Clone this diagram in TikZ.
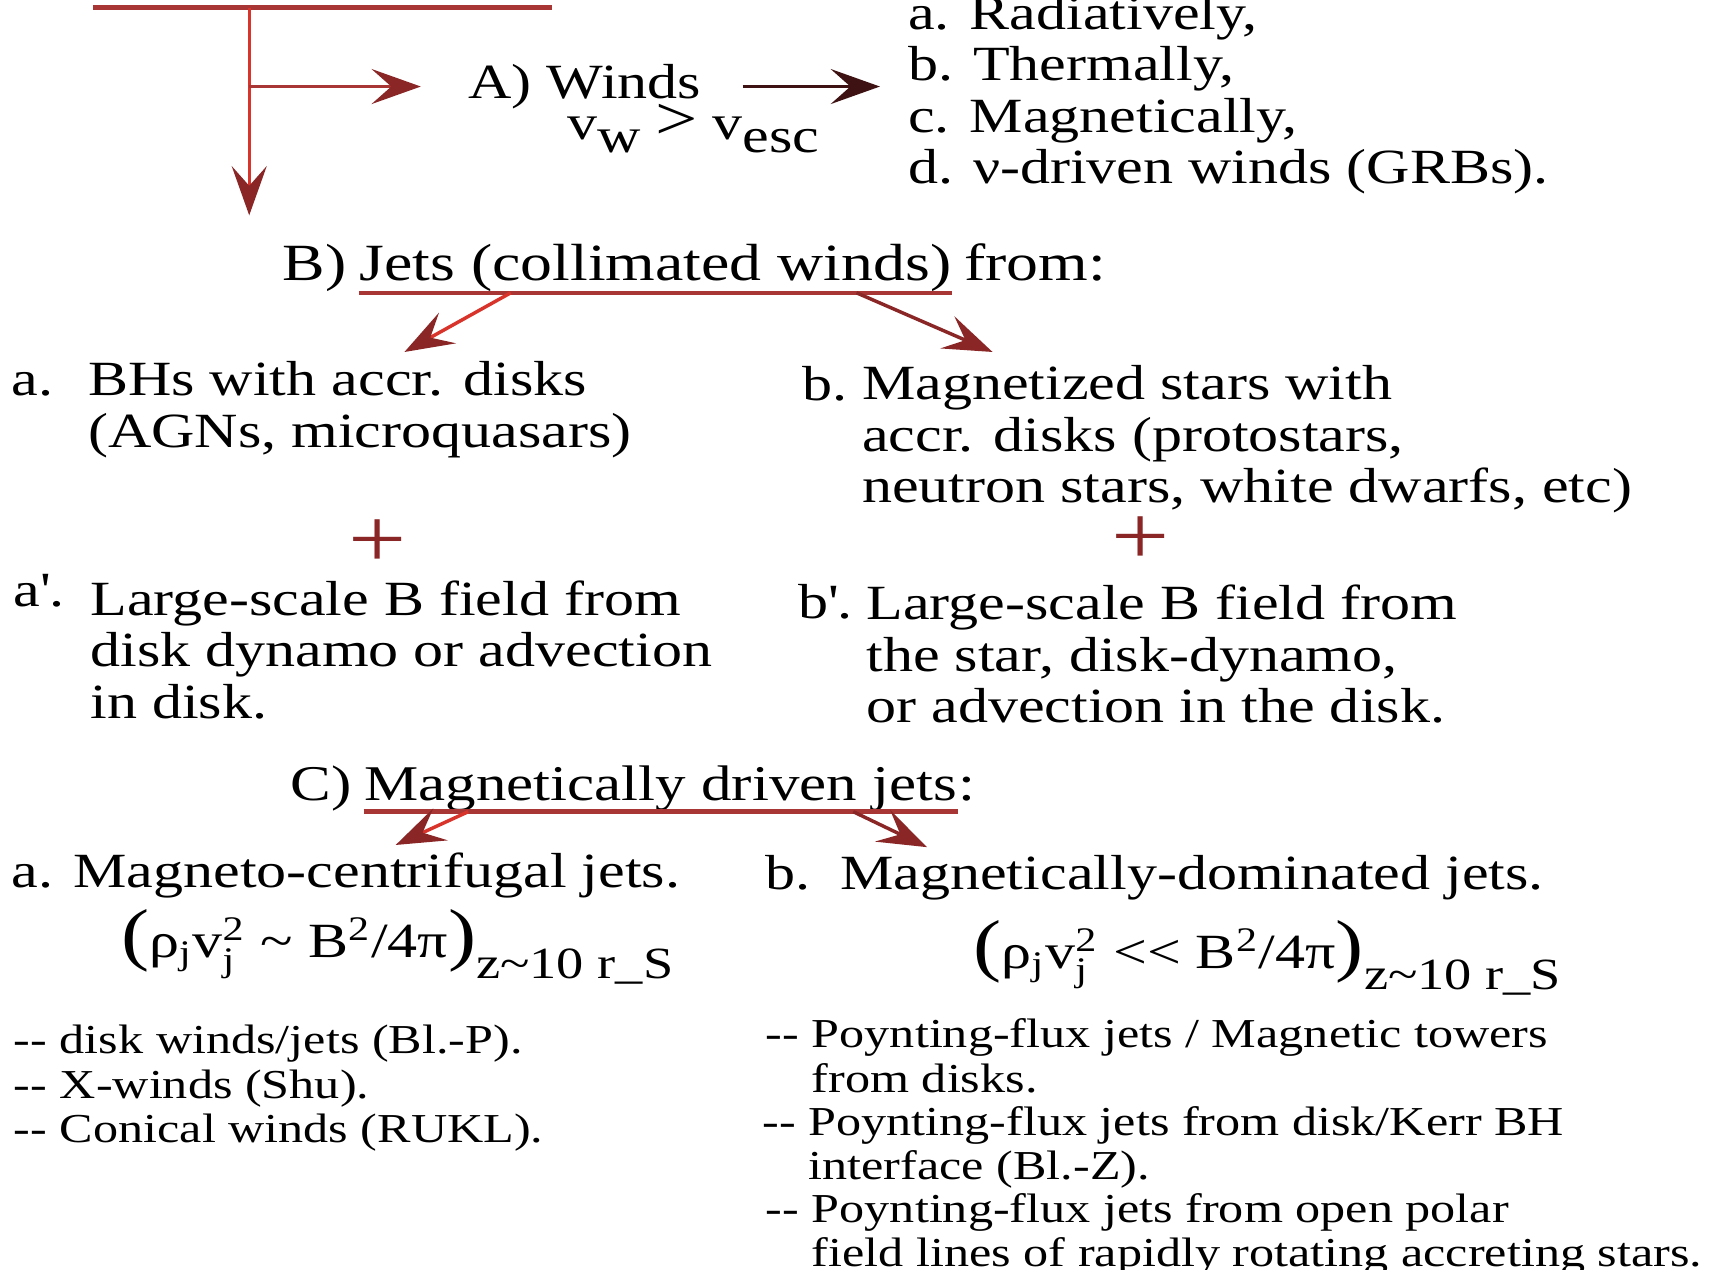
\documentclass[tikz,border=0pt]{standalone}
\usepackage{fontspec}
\usepackage{amsmath}
\setmainfont{Liberation Serif}[FakeStretch=1.22]
\usetikzlibrary{arrows.meta,positioning,calc}

\definecolor{trunkred}{HTML}{D9342B}
\definecolor{tipred}{HTML}{8A2626}
\definecolor{ulred}{HTML}{A83634}
\definecolor{inkred}{HTML}{3E1212}

\newcommand{\lo}[1]{\raisebox{-0.55ex}{#1}}
\newcommand{\bigpar}[1]{{\fontsize{18}{18}\selectfont #1}}
\newcommand{\zsub}{\raisebox{-5.4pt}{\fontsize{11.6}{12}\selectfont z\textasciitilde10 r\_S}}
\newcommand{\dd}{-{}-}

\begin{document}
\begin{tikzpicture}[x=0.01cm,y=0.01cm,
    txt/.style={anchor=base west,align=left,inner sep=0pt,
                font=\fontsize{12.8}{13.4}\selectfont},
    head/.style={anchor=base west,align=left,inner sep=0pt,
                 font=\fontsize{13.6}{14}\selectfont},
    note/.style={anchor=base west,align=left,inner sep=0pt,
                 font=\fontsize{10.7}{11.5}\selectfont},
    arr/.style={draw=trunkred,line width=0.9pt,
                -{Stealth[length=4.5mm,width=3.2mm,inset=1.8mm,color=tipred]}},
    darr/.style={draw=inkred,line width=0.9pt,
                 -{Stealth[length=4.5mm,width=3.2mm,inset=1.8mm,color=inkred]}},
    uline/.style={draw=ulred,line width=1.2pt},
    plus/.style={text=tipred,inner sep=0pt,font=\fontsize{22}{22}\selectfont},
]
\useasboundingbox (0,0) rectangle (1568,-1161);

% ---- Top bar (its heading is cut off by the frame) -----------------------
\coordinate (topL) at (85,-7);
\coordinate (topR) at (505,-7);
\coordinate (trunk) at (228,-7);
\draw[uline] (topL) -- (topR);

% ---- A) Winds -------------------------------------------------------------
% multi-line nodes sit on the baseline of their last line
\node[txt] (winds) at (428,-90) {A) Winds};
\node[txt] (vesc) at (518,-128)
    {v\lo{w} {\fontsize{16}{16}\selectfont >} v\lo{esc}};
\node[txt] (wlist) at (830,-168)
    {a. Radiatively,\\ b. Thermally,\\ c. Magnetically,\\ d. ν-driven winds (GRBs).};

% ---- B) Jets --------------------------------------------------------------
\node[head] (Bhead) at (258,-257) {B)};
\node[head,right=0.3em of Bhead.base east,anchor=base west] (Bjets)
    {Jets (collimated winds)};
\node[head,right=0.3em of Bjets.base east,anchor=base west] (Bfrom) {from:};

\node[txt] (Ba) at (10,-362) {a.};
\node[txt] (BaText) at (80,-409) {BHs with accr. disks\\ (AGNs, microquasars)};
\node[txt] (Bb) at (733,-366) {b.};
\node[txt] (BbText) at (788,-460)
    {Magnetized stars with\\ accr. disks (protostars,\\ neutron stars, white dwarfs, etc)};

\node[plus] (plusA) at (345,-497) {+};
\node[plus] (plusB) at (1043,-495) {+};

\node[txt] (Bap) at (12,-555) {a\textquotesingle.};
\node[txt] (BapText) at (82,-657)
    {Large-scale B field from\\ disk dynamo or advection\\ in disk.};
\node[txt] (Bbp) at (730,-566) {b\textquotesingle.};
\node[txt] (BbpText) at (792,-661)
    {Large-scale B field from\\ the star, disk-dynamo,\\ or advection in the disk.};

% ---- C) Magnetically driven jets -----------------------------------------
\node[head,font=\fontsize{13}{14}\selectfont] (Chead) at (265,-732) {C)};
\node[head,font=\fontsize{13}{14}\selectfont,
      right=0.3em of Chead.base east,anchor=base west] (Cmag)
    {Magnetically driven jets};
\node[head,font=\fontsize{13}{14}\selectfont,
      right=0pt of Cmag.base east,anchor=base west] (Ccolon) {:};

\node[txt] (Ca) at (10,-812) {a. Magneto-centrifugal jets.};
\node[txt] (Cb) at (700,-814) {b.};
\node[txt] (CbText) at (768,-814) {Magnetically-dominated jets.};

\node[txt] (Fa) at (110,-876)
    {\bigpar{(}ρ$_{\text{j}}$v$^{\text{2}}_{\text{j}}$ \textasciitilde{} B\textsuperscript{2}/4π\bigpar{)}\zsub};
\node[txt] (Fb) at (890,-886)
    {\bigpar{(}ρ$_{\text{j}}$v$^{\text{2}}_{\text{j}}$ {<}{<} B\textsuperscript{2}/4π\bigpar{)}\zsub};

\node[note] (CaList) at (12,-1045)
    {\dd{} disk winds/jets (Bl.-P).\\ \dd{} X-winds (Shu).\\ \dd{} Conical winds (RUKL).};
\node[note] (CbList1) at (700,-999)
    {\dd{} Poynting-flux jets / Magnetic towers\\ \phantom{\dd{} }from disks.};
\node[note] (CbList2) at (697,-1079)
    {\dd{} Poynting-flux jets from disk/Kerr BH\\ \phantom{\dd{} }interface (Bl.-Z).};
\node[note] (CbList3) at (700,-1159)
    {\dd{} Poynting-flux jets from open polar\\ \phantom{\dd{} }field lines of rapidly rotating accreting stars.};

% ---- Arrows ---------------------------------------------------------------
\draw[arr] (trunk) -- (trunk |- 0,-197);
\draw[arr,draw=ulred] (trunk |- winds.west) -- ([xshift=-0.43cm]winds.west);
\draw[darr] ([xshift=0.37cm]winds.east) -- ([xshift=-0.25cm]winds.east -| wlist.west);

\draw[uline] (Bjets.south west) -- (Bjets.south east);
\coordinate (BtipL) at (370,-322);
\coordinate (BtipR) at (908,-322);
\draw[arr] ($(Bjets.south west)!0.256!(Bjets.south east)$) -- (BtipL);
\draw[arr,draw=tipred] ($(Bjets.south west)!0.839!(Bjets.south east)$) -- (BtipR);

\draw[uline] (Cmag.south west) -- (Cmag.south east);
\coordinate (CtipL) at (362,-773);
\coordinate (CtipR) at (848,-775);
\draw[arr] ($(Cmag.south west)!0.176!(Cmag.south east)$) -- (CtipL);
\draw[arr,draw=tipred] ($(Cmag.south west)!0.824!(Cmag.south east)$) -- (CtipR);

\end{tikzpicture}
\end{document}
